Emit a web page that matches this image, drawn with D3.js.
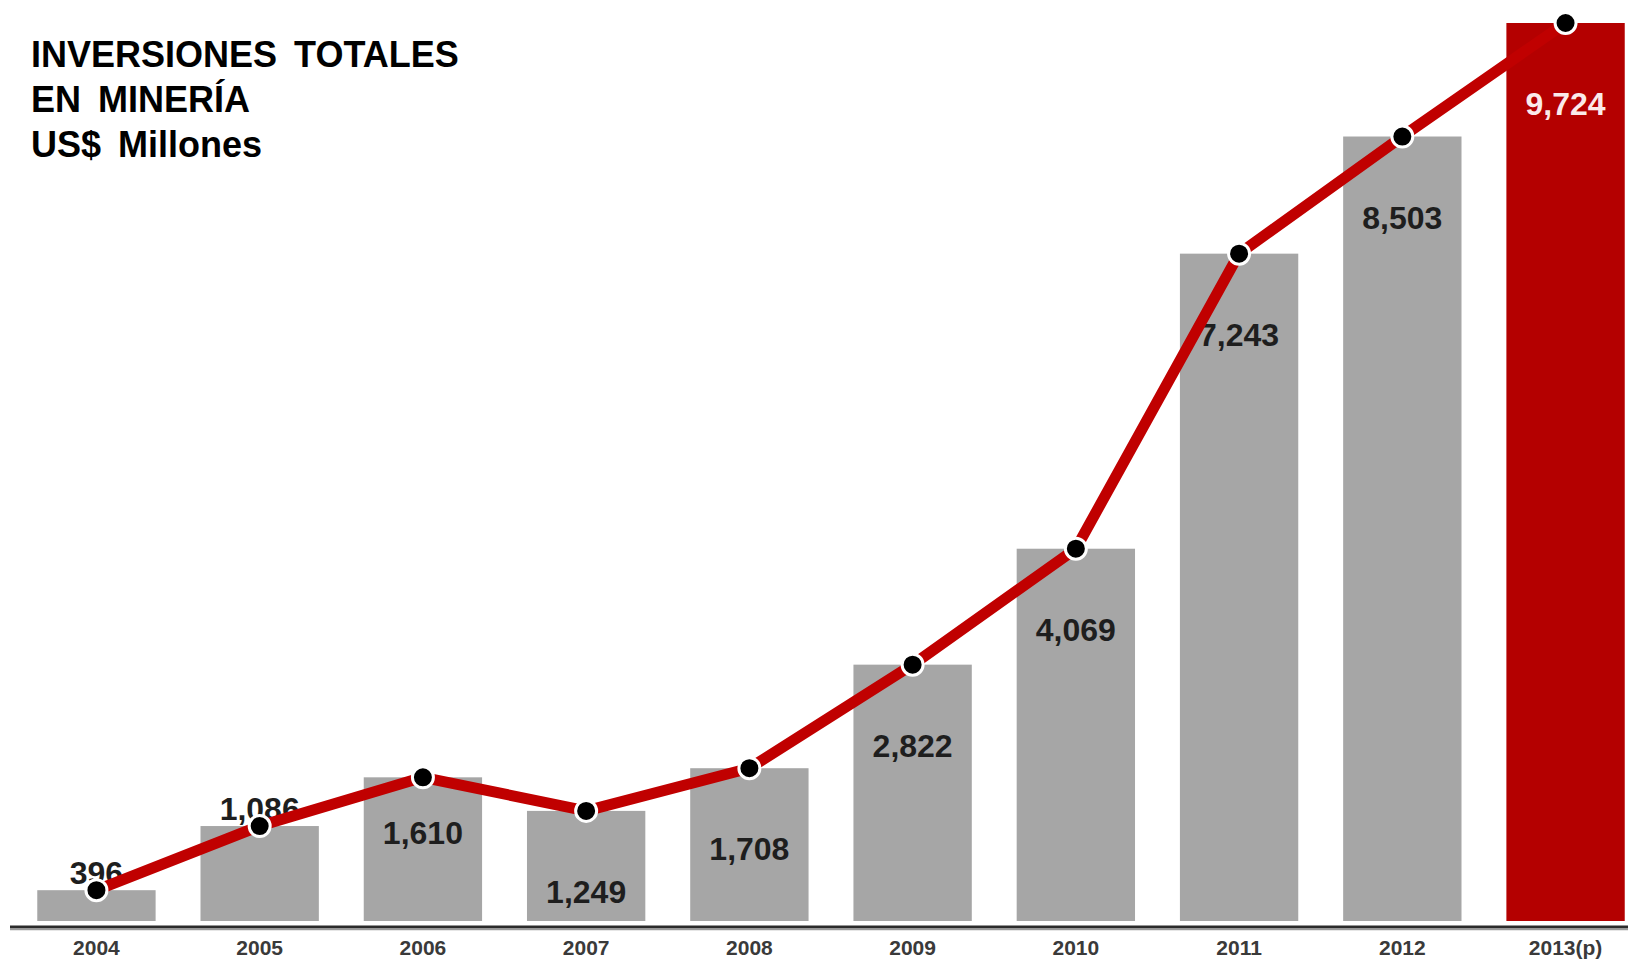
<!DOCTYPE html>
<html>
<head>
<meta charset="utf-8">
<script src="https://cdn.jsdelivr.net/npm/d3@7"></script>
<style>
  body { margin: 0; background: #fff; }
  svg { display: block; font-family: "Liberation Sans", Arial, sans-serif; }
</style>
</head>
<body>
<div class="chart"></div>
<script>
// data
const years = ['2004', '2005', '2006', '2007', '2008', '2009', '2010', '2011', '2012', '2013(p)'];
const investment = [396, 1086, 1610, 1249, 1708, 2822, 4069, 7243, 8503, 9724];
const titleLines = ['INVERSIONES TOTALES', 'EN MINERÍA', 'US$ Millones'];

// where each value label sits relative to the bar top (layout, not data)
const labelDy = { '2004': -6, '2005': -6, '2006': 67 };
const defaultLabelDy = 92;

const width = 1628;
const height = 962;

const svg = d3
  .select('.chart')
  .append('svg')
  .attr('width', width)
  .attr('height', height);

const xScale = d3.scaleBand()
  .domain(years)
  .range([34, 1628])
  .paddingInner(0.275)
  .paddingOuter(0.02);

const yScale = d3.scaleLinear()
  .domain([0, 9724])
  .range([927, 23]);

const barBottom = 921;
const data = years.map((y, i) => ({ year: y, value: investment[i], last: i === years.length - 1 }));

// bars
svg.append('g')
  .selectAll('rect')
  .data(data)
  .join('rect')
  .attr('x', (d) => xScale(d.year))
  .attr('y', (d) => yScale(d.value))
  .attr('width', xScale.bandwidth())
  .attr('height', (d) => barBottom - yScale(d.value))
  .attr('fill', (d) => (d.last ? '#b40000' : '#a6a6a6'));

// baseline
svg.append('line')
  .attr('x1', 10).attr('x2', width)
  .attr('y1', 927).attr('y2', 927)
  .attr('stroke', '#2b2b2b')
  .attr('stroke-width', 3);
svg.append('line')
  .attr('x1', 10).attr('x2', width)
  .attr('y1', 929.5).attr('y2', 929.5)
  .attr('stroke', '#9a9a9a')
  .attr('stroke-width', 1.5);

// year labels
const xAxis = d3.axisBottom(xScale).tickSize(0).tickPadding(0);
const xAxisGroup = svg.append('g')
  .attr('transform', 'translate(0,' + 955 + ')')
  .call(xAxis);
xAxisGroup.select('.domain').remove();
xAxisGroup.selectAll('text')
  .attr('dy', 0)
  .attr('font-family', '"Liberation Sans", Arial, sans-serif')
  .attr('font-size', 21)
  .attr('font-weight', 'bold')
  .attr('fill', '#3a3a3a');

// value labels (drawn before line so line runs over 396/1,086 like the original)
svg.append('g')
  .selectAll('text')
  .data(data)
  .join('text')
  .attr('x', (d) => xScale(d.year) + xScale.bandwidth() / 2)
  .attr('y', (d) => yScale(d.value) + (d.year in labelDy ? labelDy[d.year] : defaultLabelDy))
  .attr('text-anchor', 'middle')
  .attr('font-size', 32)
  .attr('font-weight', 'bold')
  .attr('fill', (d) => (d.last ? '#fbeaea' : '#1e1e1e'))
  .text((d) => d3.format(',')(d.value));

// trend line
const line = d3.line()
  .x((d) => xScale(d.year) + xScale.bandwidth() / 2)
  .y((d) => yScale(d.value));

svg.append('path')
  .datum(data)
  .attr('d', line)
  .attr('fill', 'none')
  .attr('stroke', '#c00000')
  .attr('stroke-width', 11)
  .attr('stroke-linejoin', 'round');

svg.append('g')
  .selectAll('circle')
  .data(data)
  .join('circle')
  .attr('cx', (d) => xScale(d.year) + xScale.bandwidth() / 2)
  .attr('cy', (d) => yScale(d.value))
  .attr('r', 10.5)
  .attr('fill', '#000')
  .attr('stroke', '#fff')
  .attr('stroke-width', 3);

// title
svg.append('g')
  .selectAll('text')
  .data(titleLines)
  .join('text')
  .attr('x', 31)
  .attr('y', (d, i) => 67 + i * 45)
  .attr('font-size', 36)
  .attr('font-weight', 'bold')
  .attr('word-spacing', 7)
  .attr('fill', '#000')
  .text((d) => d);
</script>
</body>
</html>
